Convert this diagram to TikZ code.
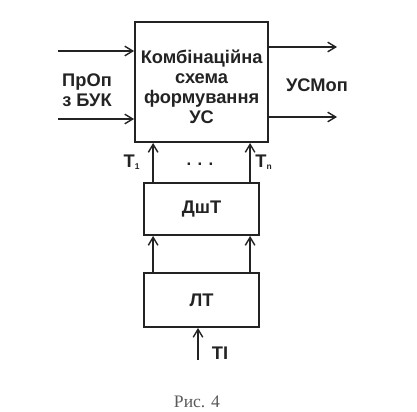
\documentclass[tikz,border=0pt]{standalone}
\usepackage{fontspec}
\setmainfont{Liberation Sans}
\newfontfamily\capfont{Liberation Serif}
\usepackage{tikz}
\usepackage{xcolor}
\usetikzlibrary{arrows.meta,positioning,calc}
\definecolor{ink}{RGB}{35,35,35}
\definecolor{capgray}{RGB}{90,90,90}

\begin{document}
\begin{tikzpicture}[>={Straight Barb[length=2mm,width=2.4mm]},
          block/.style={draw=ink,line width=1.4pt,inner sep=0pt,
                        font=\fontsize{13}{14.2}\selectfont\bfseries,
                        text=ink,align=center},
          sig/.style={->,draw=ink,line width=1pt},
          lbl/.style={font=\fontsize{13}{14.2}\selectfont\bfseries,
                      text=ink,align=center}]
        \useasboundingbox (0,0) rectangle (10.425,-10.275);
        \node[block,minimum width=3.325cm,minimum height=3cm] (main)
          at (5.04,-2.05) {};
        \node[lbl] (maintxt) at ([yshift=-0.12cm]main.center)
          {Комбінаційна\\схема\\формування\\УС};
        \node[block,minimum width=2.875cm,minimum height=1.3cm,
              below=0.975cm of main] (dsht) {ДшТ};
        \node[block,minimum width=2.875cm,minimum height=1.35cm,
              below=0.9cm of dsht] (lt) {ЛТ};
        \coordinate (in1) at (1.45,-1.275);
        \coordinate (in2) at (1.45,-2.975);
        \draw[sig] (in1) -- (in1 -| main.west);
        \draw[sig] (in2) -- (in2 -| main.west);
        \coordinate (out1) at (8.425,-1.175);
        \coordinate (out2) at (8.425,-2.925);
        \draw[sig] (out1 -| main.east) -- (out1);
        \draw[sig] (out2 -| main.east) -- (out2);
        \node[lbl] (prop) at (2.175,-2.25) {ПрОп\\з БУК};
        \node[lbl] (usmop) at (7.925,-2.125) {УСМоп};
        \coordinate (t1) at ([xshift=0.25cm]dsht.north west);
        \coordinate (tn) at ([xshift=-0.25cm]dsht.north east);
        \draw[sig] (t1) -- (t1 |- main.south);
        \draw[sig] (tn) -- (tn |- main.south);
        \draw[sig] (t1 |- lt.north) -- (t1 |- dsht.south);
        \draw[sig] (tn |- lt.north) -- (tn |- dsht.south);
        \node[lbl] (t1lbl) at (3.3,-4.05) {Т\textsubscript{\fontsize{6}{6}\selectfont 1}};
        \node[lbl] (tnlbl) at (6.6,-4.05) {Т\textsubscript{\fontsize{6}{6}\selectfont n}};
        \node[text=ink,font=\fontsize{12}{12}\selectfont\bfseries] (dots) at (5.0,-4.1) {. . .};
        \coordinate (ti) at (4.95,-9.0);
        \draw[sig] (ti) -- (ti |- lt.south);
        \node[lbl] (tilbl) at (5.5,-8.825) {ТІ};
        \node[text=capgray,font=\capfont\fontsize{12.5}{14}\selectfont] (cap)
          at (4.925,-10.05) {Рис. 4};
      \end{tikzpicture}
\end{document}
